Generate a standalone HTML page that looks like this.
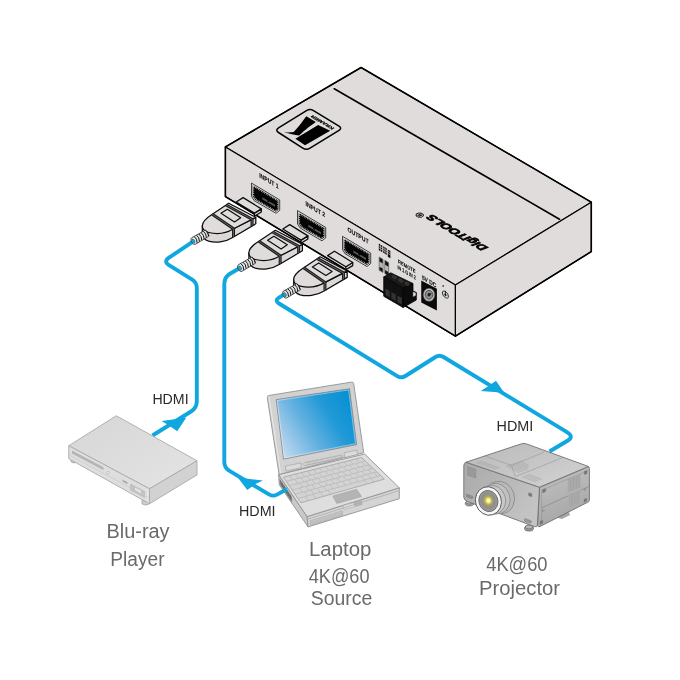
<!DOCTYPE html>
<html lang="en">
<head>
<meta charset="utf-8">
<title>HDMI Switcher Connection Diagram</title>
<style>
html,body{margin:0;padding:0;background:#fff;}
body{width:680px;height:680px;overflow:hidden;}
svg{display:block;will-change:transform;}
text{font-family:"Liberation Sans",sans-serif;}
</style>
</head>
<body>
<svg width="680" height="680" viewBox="0 0 680 680">
<defs>
<linearGradient id="scr" x1="1" y1="0.25" x2="0" y2="0.8">
<stop offset="0" stop-color="#0690d3"/>
<stop offset="0.3" stop-color="#2099d7"/>
<stop offset="0.6" stop-color="#62b0e0"/>
<stop offset="0.85" stop-color="#9fcaea"/>
<stop offset="1" stop-color="#c2dcf1"/>
</linearGradient>
<linearGradient id="brtop" x1="0" y1="0" x2="1" y2="1">
<stop offset="0" stop-color="#d6d6d6"/>
<stop offset="1" stop-color="#e4e4e4"/>
</linearGradient>
<radialGradient id="lens" cx="0.5" cy="0.48" r="0.5">
<stop offset="0" stop-color="#fff584"/>
<stop offset="0.22" stop-color="#f1df36"/>
<stop offset="0.42" stop-color="#a8a26c"/>
<stop offset="0.65" stop-color="#8c8c8c"/>
<stop offset="1" stop-color="#9c9c9c"/>
</radialGradient>
<linearGradient id="pjtop" x1="0" y1="0" x2="1" y2="1">
<stop offset="0" stop-color="#b9b9b9"/>
<stop offset="0.5" stop-color="#c6c6c6"/>
<stop offset="1" stop-color="#d4d4d4"/>
</linearGradient>
<linearGradient id="pjfront" x1="0" y1="0" x2="1" y2="0.6">
<stop offset="0" stop-color="#a9a9a9"/>
<stop offset="0.5" stop-color="#b6b6b6"/>
<stop offset="1" stop-color="#c4c4c4"/>
</linearGradient>
<linearGradient id="pjside" x1="0" y1="0" x2="0.3" y2="1">
<stop offset="0" stop-color="#c4c4c4"/>
<stop offset="1" stop-color="#a6a6a6"/>
</linearGradient>
<g id="port">
<polygon points="251.5,183.1 279.700,199.900 279.700,210.300 276,213.300 254.200,200.600 251.5,196.400" fill="#e9e7e7" stroke="#141414" stroke-width="0.8" stroke-linejoin="round"/>
<polygon points="252.700,185.200 278.500,200.500 278.500,209.700 275.900,211.800 255,199.800 252.700,196.200" fill="#0a0a0a"/>
<polygon points="253.500,186.500 277.800,200.900 277.800,209.300 275.700,210.900 255.700,199.300 253.500,195.900" fill="none" stroke="#c9c9c9" stroke-width="1.300" stroke-dasharray="0.75 1.05"/>
<polygon points="254.500,188.200 276.900,201.500 276.900,208.600 275.400,209.700 256.500,198.700 254.500,195.500" fill="#050505"/>
<polygon points="262.300,197.300 275,204.800 275,206.800 262.300,199.300" fill="#585858"/>
<line x1="267.900" y1="200" x2="269.700" y2="201.100" stroke="#050505" stroke-width="3.200"/>
</g>
<g id="plug" stroke="#0c0c0c" stroke-width="1.25" stroke-linejoin="round">
<!-- metal tip -->
<polygon points="254.4,213.1 261.300,208.900 261.300,212 254.4,216.200" fill="#d8d5d4"/>
<polygon points="236.2,202 243.1,197.6 261.300,208.900 254.4,213.1" fill="#dfdcdb"/>
<!-- body side wall -->
<path d="M202.3,225.8 L202.3,233 C202.500,237.500 205,240 208.700,241.200 C215,242.900 225,242.500 233.100,237.200 L255.800,223.800 L255.800,217.500 L233.100,229 Z" fill="#dbd8d7"/>
<!-- body top -->
<path d="M228.750,203.200 L211.900,214.400 C206,218.200 202.3,222 202.3,225.800 C202.3,229.500 205,231.600 208.700,232.500 C215,234 225,234 233.100,229 L255.800,217.300 Z" fill="#dfdcdb"/>
<!-- bands -->
<g fill="none" stroke-width="3" stroke="#1a1a1a">
<path d="M212.250,214.150 L233.550,228.800 L233.550,237"/>
<path d="M226,205 L252.050,219.300 L252.050,226"/>
</g>
<g fill="none" stroke-width="0.55" stroke="#9a9a9a">
<path d="M212.250,214.150 L233.550,228.800 L233.550,236.600"/>
<path d="M226,205 L252.050,219.300 L252.050,225.600"/>
</g>
<polygon points="221,213.300 227.300,209.300 240.700,217.800 234.500,221.900" fill="#dfdcdb" stroke-width="1.2"/>
<!-- strain relief coil -->
<path d="M191.600,237.800 L205.500,230 L209.200,236 L195.400,244.300 C192.500,245.600 189.700,239.800 191.600,237.800 Z" fill="#e4e4e4" stroke="#2a2a2a" stroke-width="0.8"/>
<g stroke="#161616" stroke-width="1" fill="none">
<path d="M194.200,236.500 q3,2.200 3,6.400"/>
<path d="M196.500,235.200 q3,2.200 3,6.400"/>
<path d="M198.800,233.900 q3,2.200 3,6.400"/>
<path d="M201.100,232.600 q3,2.200 3,6.400"/>
<path d="M203.400,231.300 q3,2.200 3,6.400"/>
<path d="M205.600,230.200 q3,2.200 3,5.800"/>
</g>
<ellipse cx="193.300" cy="241.100" rx="1.700" ry="2.500" transform="rotate(-30 193.300 241.100)" fill="#555" stroke="none"/>
<path d="M192.300,241.800 l2.200,-1.400" stroke="#10a7e0" stroke-width="3.200" fill="none"/>
</g>

</defs>
<rect width="680" height="680" fill="#fff"/>
<!-- box -->
<g stroke="#000" stroke-width="1.15" stroke-linejoin="round">
<polygon points="225.4,146.9 361.1,67.5 591.3,202.2 455.4,285.1" fill="#dfdcdb"/>
<polygon points="225.4,146.9 455.4,285.1 455.4,336.2 225.4,196.600" fill="#dfdcdb"/>
<polygon points="455.4,285.1 591.3,202.2 591.3,251.600 455.4,336.2" fill="#dfdcdb"/>
<polygon points="225.4,146.9 361.1,67.5 591.3,202.2 591.3,251.600 455.4,336.2 225.4,196.600" fill="none" stroke-width="1.55"/>
<line x1="334.25" y1="88.75" x2="559.5" y2="219.25" stroke-width="1.650" stroke-linecap="round"/>
</g>
<!-- logo -->
<g>
<path d="M278.500,127.900 L306.500,110.600 Q310,108.400 313.500,110.600 L339,126.200 Q342.300,128.200 339,130.300 L310,148.200 Q306.400,150.400 302.800,148.100 L278.500,132.500 Q275,130.200 278.500,127.900 Z" fill="none" stroke="#000" stroke-width="1.500"/>
<path d="M306.300,116.200 L315.800,121.900 C308.500,127 302.500,132 299.200,135.400 C295,135.400 289,133.700 284.200,132.300 C288,132.600 291,132.400 293.700,132 C298,127.500 302,122 306.300,116.200 Z" fill="#000"/>
<polygon points="318.100,125 330.200,130.700 305,145.200 295.400,138.800" fill="#000"/>
<text transform="matrix(-0.86,-0.52,0.86,-0.52,334.600,128.200)" font-size="4.300" font-weight="bold" fill="#000" stroke="#000" stroke-width="0.25" textLength="25.500" lengthAdjust="spacingAndGlyphs">KRAMER</text>
</g>
<!-- brand -->
<text transform="matrix(-0.862,-0.507,0.83,-0.5,488.400,247.600)" font-size="10.800" font-weight="bold" font-style="italic" fill="#000" stroke="#000" stroke-width="0.85" textLength="66" lengthAdjust="spacingAndGlyphs">DigiTOOLS</text>
<text transform="matrix(-0.862,-0.507,0.83,-0.5,425.500,215.300)" font-size="9.500" font-weight="bold" fill="#000" stroke="#000" stroke-width="0.2">®</text>

<!-- ports -->
<use href="#port"/>
<use href="#port" transform="translate(46,27.5)"/>
<use href="#port" transform="translate(91,53.200)"/>
<g font-weight="bold" font-size="6.400" fill="#000" stroke="#000" stroke-width="0.05">
<text transform="matrix(1,0.6,0,1,259.200,177.200)" textLength="19.500" lengthAdjust="spacingAndGlyphs">INPUT 1</text>
<text transform="matrix(1,0.6,0,1,305.500,205.600)" textLength="19.500" lengthAdjust="spacingAndGlyphs">INPUT 2</text>
<text transform="matrix(1,0.6,0,1,347.400,231.300)" textLength="21.200" lengthAdjust="spacingAndGlyphs">OUTPUT</text>
</g>
<!-- dip switch -->
<g fill="#111">
<polygon points="378.800,243.600 382.300,245.700 382.300,252.300 378.800,250.200"/>
<polygon points="383.200,246.200 386.700,248.300 386.700,254.900 383.200,252.800"/>
<polygon points="387.800,249.500 390.400,251.100 390.400,258.300 387.800,256.700"/>
<g stroke="#dfdcdb" stroke-width="0.55">
<line x1="378.500" y1="245.600" x2="391" y2="253.100"/>
<line x1="378.500" y1="247.700" x2="391" y2="255.200"/>
<line x1="380.550" y1="243.500" x2="380.550" y2="252.500"/>
<line x1="384.950" y1="246" x2="384.950" y2="255"/>
</g>
<polygon points="379.200,257 383,259.300 383,272.500 379.200,270.200" fill="#d9d9d9" stroke="#333" stroke-width="0.6"/>
<polygon points="384.800,260.300 388.600,262.600 388.600,275.800 384.800,273.500" fill="#d9d9d9" stroke="#333" stroke-width="0.6"/>
<polygon points="379.500,257.500 382.700,259.400 382.700,263.400 379.500,261.500"/>
<polygon points="385.100,260.800 388.300,262.700 388.300,266.700 385.100,264.800"/>
<polygon points="379.500,266.700 382.700,268.600 382.700,272 379.500,270.100"/>
<polygon points="385.100,270 388.300,271.900 388.300,275.300 385.100,273.400"/>
<g stroke="#777" stroke-width="0.4">
<line x1="380.600" y1="262.200" x2="380.600" y2="267.400"/>
<line x1="381.700" y1="262.900" x2="381.700" y2="268"/>
<line x1="386.200" y1="265.500" x2="386.200" y2="270.700"/>
<line x1="387.300" y1="266.200" x2="387.300" y2="271.300"/>
</g>
</g>
<!-- terminal block -->
<g stroke="#000" stroke-width="0.8" stroke-linejoin="round">
<polygon points="383.750,276.900 390.600,272.800 413,283.500 403.100,288.200" fill="#1a1a1a"/>
<polygon points="403.100,288.200 413,283.500 413,291 416.300,292.500 416.300,300 403.100,307.500" fill="#0c0c0c"/>
<polygon points="383.750,276.900 403.100,288.200 403.100,307.500 383.750,296.250" fill="#111"/>
</g>
<polygon points="412.800,291.400 416,292.800 416,295.500 412.800,297.200" fill="#dcdcdc" stroke="#000" stroke-width="0.5"/>
<g fill="#333">
<polygon points="385.400,288.500 389.800,291 389.800,297.500 385.400,295"/>
<polygon points="391.400,292 395.800,294.500 395.800,301 391.400,298.500"/>
<polygon points="397.400,295.500 401.800,298 401.800,304.500 397.400,302"/>
</g>
<g fill="#2e2e2e" stroke="#4a4a4a" stroke-width="0.5">
<ellipse cx="394.300" cy="277.200" rx="2.300" ry="1.400" transform="rotate(28 394.300 277.200)"/>
<ellipse cx="400.700" cy="280.500" rx="2.300" ry="1.400" transform="rotate(28 400.700 280.500)"/>
<ellipse cx="407" cy="283.700" rx="2.300" ry="1.400" transform="rotate(28 407 283.700)"/>
</g>
<!-- dc jack -->
<polygon points="421.250,280.600 436.900,288.750 436.900,310.600 421.250,302.500" fill="#0a0a0a"/>
<ellipse cx="429" cy="294.800" rx="5.800" ry="6.500" fill="#c4c4c4" stroke="#4a4a4a" stroke-width="0.6"/>
<ellipse cx="429" cy="294.800" rx="3.900" ry="4.400" fill="#8c8c8c" stroke="#3c3c3c" stroke-width="0.8"/>
<ellipse cx="429" cy="294.800" rx="1.500" ry="1.700" fill="#1c1c1c"/>
<line x1="428.300" y1="295.300" x2="431.300" y2="293.500" stroke="#1c1c1c" stroke-width="1.200"/>
<!-- ground symbol -->
<g transform="matrix(1,0.55,0,1,445.400,294.600)">
<circle cx="0" cy="0" r="3" fill="none" stroke="#111" stroke-width="0.75"/>
<line x1="0" y1="-3.800" x2="0" y2="0.500" stroke="#111" stroke-width="0.75"/>
<circle cx="0" cy="0.300" r="1.100" fill="#111"/>
</g>
<path d="M442.300,286 h1.800 M443.200,285.100 v1.800" stroke="#111" stroke-width="0.6" fill="none"/>
<g font-weight="bold" fill="#000" stroke="#000" stroke-width="0.05">
<text transform="matrix(1,0.6,0,1,398.100,263)" font-size="5.400" textLength="17.500" lengthAdjust="spacingAndGlyphs">REMOTE</text>
<text transform="matrix(1,0.6,0,1,397.500,268.800)" font-size="5.400" textLength="18.200" lengthAdjust="spacingAndGlyphs">IN 1 G IN 2</text>
<text transform="matrix(1,0.6,0,1,421.900,279.200)" font-size="6.200" textLength="14.400" lengthAdjust="spacingAndGlyphs">5V DC</text>
</g>

<!-- laptop -->
<g stroke="#939393" stroke-width="0.9" stroke-linejoin="round">
<!-- base left face -->
<polygon points="278.600,474.600 307.100,516.600 308.100,526.900 279.300,484.800" fill="#c9c9c9"/>
<!-- base front face -->
<polygon points="307.100,516.600 399.300,487.800 399.300,498.700 308.100,526.900" fill="#d4d4d4"/>
<!-- base top -->
<polygon points="278.600,474.600 364.700,454 399.300,487.800 307.100,516.600" fill="#dedede"/>
<!-- lid -->
<path d="M267.300,397.500 Q267,395.800 268.800,395.500 L351.500,382.100 Q353.400,381.800 353.700,383.700 L363.700,452.700 L279.100,474.500 Z" fill="#d2d2d2"/>
</g>
<!-- lid inner left edge highlight -->
<path d="M269,396.800 L280.600,473.200" stroke="#f0f0f0" stroke-width="0.8" fill="none"/>
<!-- screen -->
<polygon points="276.200,399.600 349.500,388.750 356.600,444.600 283.500,459.100" fill="url(#scr)" stroke="#8c8c8c" stroke-width="0.9" stroke-linejoin="round"/>
<polygon points="277.300,400.500 348.600,389.900 355.500,443.700 284.400,457.900" fill="none" stroke="#e9eef2" stroke-width="0.5"/>
<!-- hinge blocks and speaker -->
<g fill="#dbdbdb" stroke="#9a9a9a" stroke-width="0.6">
<polygon points="285.300,466.200 300.900,462.900 301.400,467.600 286,471.100"/>
<polygon points="344.100,452.800 356.800,450.100 357.400,454.600 344.700,457.500"/>
<path d="M304.500,462.600 L341,455.100 q1.300,0 1.400,1.200 q0,1.200 -1,1.500 L305.300,465.500 q-1.300,0.200 -1.600,-1.200 q-0.200,-1.400 0.800,-1.700 Z"/>
</g>
<g fill="none" stroke="#a4a4a4" stroke-width="0.5">
<ellipse cx="308" cy="463.400" rx="1.900" ry="0.900" transform="rotate(-11.500 308 463.400)"/>
<ellipse cx="312.700" cy="462.450" rx="1.900" ry="0.900" transform="rotate(-11.500 312.700 462.450)"/>
<ellipse cx="317.400" cy="461.500" rx="1.900" ry="0.900" transform="rotate(-11.500 317.400 461.500)"/>
<ellipse cx="322.100" cy="460.550" rx="1.900" ry="0.900" transform="rotate(-11.500 322.100 460.550)"/>
<ellipse cx="326.800" cy="459.600" rx="1.900" ry="0.900" transform="rotate(-11.500 326.800 459.600)"/>
<ellipse cx="331.500" cy="458.650" rx="1.900" ry="0.900" transform="rotate(-11.500 331.500 458.650)"/>
<ellipse cx="336.200" cy="457.700" rx="1.900" ry="0.900" transform="rotate(-11.500 336.200 457.700)"/>
<ellipse cx="340.400" cy="456.800" rx="1.500" ry="0.900" transform="rotate(-11.500 340.400 456.800)"/>
</g>
<!-- keyboard -->
<polygon points="283.400,477.100 361.600,457.500 384.300,479.100 300.900,502.800" fill="#d3d3d3" stroke="#9a9a9a" stroke-width="0.7" stroke-linejoin="round"/>
<g id="kb" stroke="#b0b0b0" stroke-width="0.6" fill="none">
<line x1="286.3" y1="481.4" x2="365.4" y2="461.1"/>
<line x1="289.2" y1="485.7" x2="369.2" y2="464.7"/>
<line x1="292.1" y1="490.0" x2="373.0" y2="468.3"/>
<line x1="295.1" y1="494.2" x2="376.7" y2="471.9"/>
<line x1="298.0" y1="498.5" x2="380.5" y2="475.5"/>
<line x1="289.4" y1="475.6" x2="292.4" y2="479.8"/>
<line x1="295.4" y1="474.1" x2="298.5" y2="478.3"/>
<line x1="301.4" y1="472.6" x2="304.6" y2="476.7"/>
<line x1="307.5" y1="471.1" x2="310.6" y2="475.1"/>
<line x1="313.5" y1="469.6" x2="316.7" y2="473.6"/>
<line x1="319.5" y1="468.1" x2="322.8" y2="472.0"/>
<line x1="325.5" y1="466.5" x2="328.9" y2="470.5"/>
<line x1="331.5" y1="465.0" x2="335.0" y2="468.9"/>
<line x1="337.5" y1="463.5" x2="341.1" y2="467.3"/>
<line x1="343.6" y1="462.0" x2="347.1" y2="465.8"/>
<line x1="349.6" y1="460.5" x2="353.2" y2="464.2"/>
<line x1="355.6" y1="459.0" x2="359.3" y2="462.7"/>
<line x1="294.8" y1="479.2" x2="297.8" y2="483.4"/>
<line x1="300.9" y1="477.6" x2="304.0" y2="481.8"/>
<line x1="307.0" y1="476.1" x2="310.1" y2="480.2"/>
<line x1="313.1" y1="474.5" x2="316.3" y2="478.6"/>
<line x1="319.2" y1="473.0" x2="322.4" y2="477.0"/>
<line x1="325.2" y1="471.4" x2="328.6" y2="475.3"/>
<line x1="331.3" y1="469.8" x2="334.7" y2="473.7"/>
<line x1="337.4" y1="468.3" x2="340.9" y2="472.1"/>
<line x1="343.5" y1="466.7" x2="347.0" y2="470.5"/>
<line x1="349.6" y1="465.2" x2="353.2" y2="468.9"/>
<line x1="355.7" y1="463.6" x2="359.3" y2="467.3"/>
<line x1="361.7" y1="462.0" x2="365.5" y2="465.7"/>
<line x1="299.7" y1="482.9" x2="302.7" y2="487.1"/>
<line x1="305.8" y1="481.3" x2="308.9" y2="485.5"/>
<line x1="312.0" y1="479.7" x2="315.1" y2="483.8"/>
<line x1="318.1" y1="478.1" x2="321.4" y2="482.1"/>
<line x1="324.3" y1="476.5" x2="327.6" y2="480.5"/>
<line x1="330.4" y1="474.9" x2="333.8" y2="478.8"/>
<line x1="336.6" y1="473.2" x2="340.0" y2="477.1"/>
<line x1="342.7" y1="471.6" x2="346.2" y2="475.5"/>
<line x1="348.9" y1="470.0" x2="352.4" y2="473.8"/>
<line x1="355.0" y1="468.4" x2="358.7" y2="472.1"/>
<line x1="361.2" y1="466.8" x2="364.9" y2="470.5"/>
<line x1="367.3" y1="465.2" x2="371.1" y2="468.8"/>
<line x1="299.6" y1="488.0" x2="302.6" y2="492.2"/>
<line x1="305.8" y1="486.3" x2="308.9" y2="490.5"/>
<line x1="312.0" y1="484.6" x2="315.2" y2="488.7"/>
<line x1="318.3" y1="483.0" x2="321.5" y2="487.0"/>
<line x1="324.5" y1="481.3" x2="327.7" y2="485.3"/>
<line x1="330.7" y1="479.6" x2="334.0" y2="483.6"/>
<line x1="336.9" y1="478.0" x2="340.3" y2="481.9"/>
<line x1="343.1" y1="476.3" x2="346.6" y2="480.1"/>
<line x1="349.3" y1="474.6" x2="352.9" y2="478.4"/>
<line x1="355.5" y1="473.0" x2="359.1" y2="476.7"/>
<line x1="361.8" y1="471.3" x2="365.4" y2="475.0"/>
<line x1="368.0" y1="469.6" x2="371.7" y2="473.3"/>
<line x1="304.5" y1="491.7" x2="307.5" y2="495.9"/>
<line x1="310.8" y1="489.9" x2="313.9" y2="494.1"/>
<line x1="317.1" y1="488.2" x2="320.2" y2="492.3"/>
<line x1="323.3" y1="486.5" x2="326.6" y2="490.5"/>
<line x1="329.6" y1="484.8" x2="332.9" y2="488.8"/>
<line x1="335.9" y1="483.1" x2="339.2" y2="487.0"/>
<line x1="342.2" y1="481.3" x2="345.6" y2="485.2"/>
<line x1="348.5" y1="479.6" x2="351.9" y2="483.5"/>
<line x1="354.7" y1="477.9" x2="358.3" y2="481.7"/>
<line x1="361.0" y1="476.2" x2="364.6" y2="479.9"/>
<line x1="367.3" y1="474.5" x2="371.0" y2="478.2"/>
<line x1="373.6" y1="472.8" x2="377.3" y2="476.4"/>
<line x1="305.4" y1="496.4" x2="308.4" y2="500.7"/>
<line x1="312.8" y1="494.4" x2="315.9" y2="498.5"/>
<line x1="320.3" y1="492.3" x2="323.4" y2="496.4"/>
<line x1="327.7" y1="490.2" x2="330.9" y2="494.3"/>
<line x1="364.0" y1="480.1" x2="367.6" y2="483.8"/>
<line x1="370.6" y1="478.3" x2="374.3" y2="481.9"/>
</g>
<!-- touchpad -->
<polygon points="332.800,496 356.500,489.400 361.600,496.600 336.900,503.400" fill="#b4b4b4" stroke="#9e9e9e" stroke-width="0.6"/>
<polygon points="343,505.600 353.800,502.500 355,506.500 344.200,509.700" fill="#dcdcdc" stroke="#a6a6a6" stroke-width="0.5"/>
<polygon points="354.400,502.300 361.200,500.300 362.200,504.400 355.500,506.400" fill="#b9b9b9" stroke="#a0a0a0" stroke-width="0.5"/>
<!-- front lip line -->
<path d="M307.500,519.200 L399.300,490.600" stroke="#a0a0a0" stroke-width="0.6" fill="none"/>
<!-- front vents -->
<polygon points="310.300,520.800 342.300,510.800 342.600,515.600 310.800,525.500" fill="#cdcdcd" stroke="#9c9c9c" stroke-width="0.5"/>
<g stroke="#a8a8a8" stroke-width="0.5">
<line x1="311" y1="522.200" x2="342" y2="512.500"/>
<line x1="311" y1="523.500" x2="342" y2="513.800"/>
<line x1="311" y1="524.700" x2="342" y2="515"/>
</g>
<!-- left vents -->
<polygon points="279.900,479.600 291.300,496.500 291.800,501.400 280.300,484.300" fill="#7d7d7d" stroke="#666" stroke-width="0.5"/>
<g stroke="#4e4e4e" stroke-width="0.5">
<line x1="282" y1="482.800" x2="282.200" y2="487"/>
<line x1="284" y1="485.700" x2="284.200" y2="490"/>
<line x1="286" y1="488.700" x2="286.200" y2="493"/>
<line x1="288" y1="491.700" x2="288.200" y2="496"/>
<line x1="290" y1="494.700" x2="290.200" y2="499"/>
</g>

<!-- cables -->
<g fill="none" stroke="#10a7e0" stroke-width="3.900" stroke-linejoin="round" stroke-linecap="butt">
<path d="M195.500,239.800 L169,257.700 Q163.300,261.500 169,265.100 L192.200,279.700 Q196.800,282.600 196.800,288 L196.800,401 Q196.800,408 191,411.500 L152.500,435.500"/>
<path d="M242.500,266.500 L230,273.800 Q224.300,277.200 224.300,284 L224.300,462 Q224.300,467.800 229.500,470.900 L269,494.400 Q273,496.800 277,494.600 L287,489"/>
<path d="M286.500,293 L279,297.600 Q274.200,300.500 279,303.500 L397.300,376.100 Q401.300,378.600 405.400,376 L435.500,357 Q439.500,354.500 443.500,357 L567,432.200 Q574.400,436.700 567.500,440.800 L549.500,451.500"/>
</g>
<g fill="#10a7e0">
<polygon points="186.200,417.700 161.500,421 167.500,424.600 177.200,431.200"/>
<polygon points="237.800,477.600 263,480.600 255.500,484 247.300,490"/>
<polygon points="504.200,392.800 480.800,391.100 487.300,386.700 496,380.800"/>
</g>

<!-- conn -->
<use href="#plug"/>
<use href="#plug" transform="translate(46.600,27)"/>
<use href="#plug" transform="translate(91.400,53.600)"/>

<!-- bluray -->
<g stroke="#a9a9a9" stroke-width="0.9" stroke-linejoin="round">
<!-- feet -->
<path d="M71,458.500 v3.200 q2.500,2.200 5.500,0.500 v-2.500 Z" fill="#cfcfcf"/>
<path d="M142,500 v3.800 q3,2.200 6.500,0.500 v-2 Z" fill="#cfcfcf"/>
<polygon points="68.750,445.750 116.250,415.750 197,460.750 149.500,488.750" fill="url(#brtop)"/>
<polygon points="68.750,445.750 149.500,488.750 149.500,503.750 68.750,458.750" fill="#dedede"/>
<polygon points="149.500,488.750 197,460.750 197,475 149.500,503.750" fill="#d2d2d2"/>
</g>
<polygon points="72,450.500 103.500,467.300 103.500,470.300 72,453.500" fill="#b4b4b4"/>
<polygon points="130.500,484 144.500,491.500 144.500,497.500 130.500,490" fill="#c2c2c2" stroke="#b0b0b0" stroke-width="0.5"/>
<polygon points="135,487.500 141,490.700 141,493.700 135,490.500" fill="#e6e6e6"/>
<polygon points="122.500,479.500 127.500,482.200 127.500,484.200 122.500,481.500" fill="#aaa"/>
<circle cx="107.800" cy="472.800" r="1.400" fill="#e8e8e8" stroke="#a8a8a8" stroke-width="0.5"/>
<line x1="148" y1="489" x2="148" y2="502.800" stroke="#eee" stroke-width="0.8"/>
<!-- front seam --><path d="M70,455.300 L148.500,497.500" stroke="#c4c4c4" stroke-width="0.6" fill="none"/>

<!-- projector -->
<g stroke="#6f6f6f" stroke-width="0.9" stroke-linejoin="round">
<!-- feet -->
<ellipse cx="469.500" cy="503.500" rx="4.200" ry="2.400" fill="#a8a8a8"/>
<ellipse cx="469.500" cy="502.300" rx="3.600" ry="1.800" fill="#bdbdbd"/>
<ellipse cx="529" cy="528.400" rx="4.500" ry="2.600" fill="#a2a2a2"/>
<ellipse cx="529" cy="527" rx="3.800" ry="2" fill="#b8b8b8"/>
<path d="M556,517.500 l6,1.500 l8,-4 l-1,-3 Z" fill="#a6a6a6" stroke="none"/>
<!-- right face -->
<path d="M539.500,487.200 L587.500,466.800 Q589.400,466.200 589.400,468.500 L589.400,500 Q589.400,501.500 587.800,502.200 L540,526.500 Q538,527.300 537.500,525.500 Z" fill="url(#pjside)"/>
<!-- front face -->
<path d="M466,462.200 L539.500,487.200 L537.400,525 Q537,527.500 534.500,526.600 L467.500,501.500 Q463.800,500 463.800,497 L463.800,466 Q463.800,462.800 466,462.200 Z" fill="url(#pjfront)"/>
<!-- top face -->
<path d="M466,462.200 L521.500,443.800 Q524,443 526.500,443.900 L588.500,466.500 L539.500,487.200 Z" fill="url(#pjtop)"/>
</g>
<!-- top grooves -->
<g fill="none" stroke="#8e8e8e" stroke-width="0.5">
<path d="M484.500,455.800 L511.500,465.500 L544,452.200"/>
<path d="M511.500,465.500 L515.500,477.500"/>
<path d="M516.500,476.200 L562.500,457.600"/>
<path d="M469,463 L540,487.800 L586.500,468"/>
</g>
<g stroke="#9a9a9a" stroke-width="0.45">
<path d="M505.500,466.500 l17,-5.500 M507.500,467.500 l17,-5.500 M509.500,468.500 l17,-5.500 M511.500,469.500 l17,-5.500 M513.500,470.500 l15,-5 M515.500,471.500 l13,-4.500 M517.500,472.500 l10,-3.500" fill="none"/>
<path d="M524,476 l14,5 M526,475 l14,5 M528,474.200 l14,5 M522,477 l14,5" fill="none"/>
<path d="M476,462.500 l20,7 M478,461.700 l20,7 M480,461 l20,7" fill="none"/>
</g>
<!-- inner panel --><path d="M541.700,490.300 L588.500,470.300" stroke="#8a8a8a" stroke-width="0.5" fill="none"/>
<!-- right face seam + vents -->
<path d="M541.200,508 L589,486.500" stroke="#7f7f7f" stroke-width="0.6" fill="none"/>
<path d="M541.700,489.500 L541.700,524" stroke="#8a8a8a" stroke-width="0.5" fill="none"/>
<g fill="#aeaeae">
<polygon points="567.500,479.500 580.500,474 580.500,487.500 567.500,493"/>
<polygon points="568.500,495 580.500,489.700 580.500,502 568.500,507.500"/>
</g>
<g stroke="#949494" stroke-width="0.4" fill="none">
<path d="M569,479 v13 M570.500,478.400 v13 M572,477.800 v13 M573.500,477.200 v13 M575,476.600 v13 M576.500,476 v13 M578,475.400 v13 M579.500,474.800 v13"/>
<path d="M570,494.500 v12 M571.500,493.900 v12 M573,493.300 v12 M574.500,492.700 v12 M576,492.100 v12 M577.500,491.500 v12 M579,490.900 v12"/>
</g>
<g fill="#777" stroke="#666" stroke-width="0.3">
<polygon points="542.700,489.800 545.600,488.600 545.600,491.600 542.700,492.800"/>
<polygon points="584.300,471.500 587,470.400 587,473.400 584.300,474.500"/>
<polygon points="540,521.500 542.800,520.200 542.800,523.200 540,524.500"/>
<polygon points="584,499.500 586.600,498.300 586.600,501 584,502.200"/>
<polygon points="528.700,492.700 531.800,493.700 531.800,496.800 528.700,495.800"/>
</g>
<circle cx="543.200" cy="510.800" r="1" fill="#aaa" stroke="#777" stroke-width="0.4"/>
<circle cx="585" cy="489.500" r="0.900" fill="#aaa" stroke="#777" stroke-width="0.4"/>
<!-- front details -->
<polygon points="467.700,466.600 475.800,469.300 475.800,478 467.700,475.300" fill="#999" stroke="#888" stroke-width="0.4"/>
<path d="M466.500,494 l6,2.200 q1.500,1 0,2 l-1,0.500 l-5,-1.800 Z" fill="#8f8f8f" stroke="#6e6e6e" stroke-width="0.4"/>
<path d="M525,518.500 l6,2.200 q1.500,1 0,2 l-1,0.500 l-5,-1.800 q-1.500,-1.500 0,-2.900 Z" fill="#9a9a9a" stroke="#6e6e6e" stroke-width="0.4"/>
<!-- lens barrel -->
<g stroke="#7a7a7a" stroke-width="0.6">
<ellipse cx="499.800" cy="497.500" rx="14.600" ry="16.400" fill="#b9b9b9" transform="rotate(-18 499.800 497.500)"/>
<ellipse cx="496.200" cy="498.600" rx="13.800" ry="15.500" fill="#c1c1c1" transform="rotate(-18 496.200 498.600)"/>
<ellipse cx="492.500" cy="499.800" rx="13.100" ry="14.700" fill="#c8c8c8" transform="rotate(-18 492.500 499.800)"/>
<ellipse cx="488.400" cy="501" rx="12.900" ry="14.400" fill="#f6f6f6" stroke="#585858" stroke-width="0.9" transform="rotate(-18 488.400 501)"/>
<ellipse cx="488.400" cy="501" rx="9.500" ry="10.700" fill="url(#lens)" stroke="#666" stroke-width="0.8" transform="rotate(-18 488.400 501)"/>
</g>
<ellipse cx="488.600" cy="500.600" rx="1.800" ry="2.100" fill="#fffbe0"/>

<!-- text -->
<g>
<text x="152.40" y="404.20" font-size="14" fill="#2b2829" textLength="36.19" lengthAdjust="spacingAndGlyphs">HDMI</text>
<text x="239.00" y="515.60" font-size="14" fill="#2b2829" textLength="36.61" lengthAdjust="spacingAndGlyphs">HDMI</text>
<text x="496.50" y="430.60" font-size="14" fill="#2b2829" textLength="36.74" lengthAdjust="spacingAndGlyphs">HDMI</text>
<text x="106.50" y="537.50" font-size="20" fill="#696a6c" textLength="63.05" lengthAdjust="spacingAndGlyphs">Blu-ray</text>
<text x="110.30" y="565.75" font-size="20" fill="#696a6c" textLength="54.26" lengthAdjust="spacingAndGlyphs">Player</text>
<text x="309.00" y="555.50" font-size="20" fill="#696a6c" textLength="62.30" lengthAdjust="spacingAndGlyphs">Laptop</text>
<text x="308.75" y="582.50" font-size="20" fill="#696a6c" textLength="60.76" lengthAdjust="spacingAndGlyphs">4K@60</text>
<text x="310.75" y="604.50" font-size="20" fill="#696a6c" textLength="61.54" lengthAdjust="spacingAndGlyphs">Source</text>
<text x="486.25" y="570.50" font-size="20" fill="#696a6c" textLength="61.26" lengthAdjust="spacingAndGlyphs">4K@60</text>
<text x="479.00" y="595.00" font-size="20" fill="#696a6c" textLength="81.01" lengthAdjust="spacingAndGlyphs">Projector</text>
</g>


</svg>
</body>
</html>
